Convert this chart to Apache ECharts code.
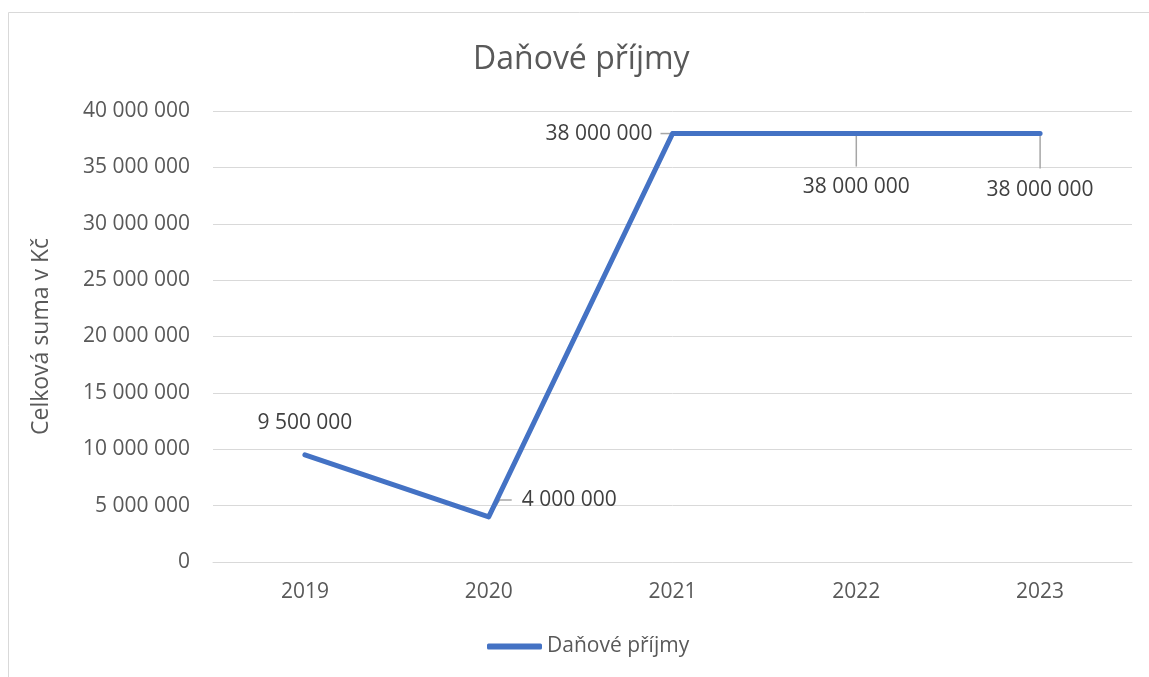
<!DOCTYPE html>
<html>
<head>
<meta charset="utf-8">
<script src="https://cdn.jsdelivr.net/npm/echarts@6/dist/echarts.min.js"></script>
<style>html,body{margin:0;padding:0;background:#fff}#c{width:1149px;height:677px}</style>
</head>
<body>
<div id="c"></div>
<script>
var categories = ['2019', '2020', '2021', '2022', '2023'];
var values = [9500000, 4000000, 38000000, 38000000, 38000000];
var seriesName = 'Daňové příjmy';
var titleText = 'Daňové příjmy';
var yAxisName = 'Celková suma v Kč';

function fmt(v) { return String(v).replace(/\B(?=(\d{3})+(?!\d))/g, ' '); }

var FONT = 'Open Sans';
// label placement relative to each point (pixel offsets = styling)
var labelPlacement = [
  { dx: 0, dy: -32, align: 'center', line: null },
  { dx: 33, dy: -17, align: 'left', line: [[0, 0], [11, -17], [23, -17]] },
  { dx: -20, dy: 0, align: 'right', line: [[-12, 0], [0, 0]] },
  { dx: 0, dy: 53, align: 'center', line: [[0, 0], [0, 33]] },
  { dx: 0, dy: 56, align: 'center', line: [[0, 0], [0, 35]] }
];

var chart = echarts.init(document.getElementById('c'));
chart.setOption({
  animation: false,
  textStyle: { fontFamily: FONT },
  graphic: [{
    type: 'rect', shape: { x: 8.5, y: 12.5, width: 1200, height: 700 },
    style: { fill: 'none', stroke: '#d9d9d9', lineWidth: 1 }, silent: true, z: -1
  }],
  title: {
    text: titleText, left: 468, top: 39,
    textStyle: { fontFamily: FONT, fontSize: 32, fontWeight: 'normal', color: '#595959' }
  },
  legend: {
    bottom: 15, left: 482,
    icon: 'roundRect', itemWidth: 55, itemHeight: 6, itemGap: 10,
    textStyle: { fontFamily: FONT, fontSize: 21, color: '#595959' },
    data: [seriesName]
  },
  grid: { left: 213, right: 17, top: 111, bottom: 115 },
  xAxis: {
    type: 'category', data: categories, boundaryGap: true,
    axisLine: { show: true, lineStyle: { color: '#d9d9d9', width: 1 } },
    axisTick: { show: false },
    axisLabel: { fontFamily: FONT, fontSize: 21, color: '#595959', margin: 20 }
  },
  yAxis: {
    type: 'value', min: 0, max: 40000000, interval: 5000000,
    name: yAxisName, nameLocation: 'middle', nameGap: 160,
    nameTextStyle: { fontFamily: FONT, fontSize: 23, color: '#595959' },
    axisLine: { show: false }, axisTick: { show: false },
    splitLine: { lineStyle: { color: '#d9d9d9', width: 1 } },
    axisLabel: { fontFamily: FONT, fontSize: 21, color: '#595959', margin: 23, formatter: fmt }
  },
  series: [{
    name: seriesName, type: 'line', data: values,
    symbol: 'none', showSymbol: false, z: 3,
    lineStyle: { color: '#4472C4', width: 5, cap: 'round', join: 'round' },
    itemStyle: { color: '#4472C4' }
  }, {
    name: 'labels', type: 'custom', z: 2, silent: true,
    data: values.map(function (v, i) { return [i, v]; }),
    renderItem: function (params, api) {
      var i = params.dataIndex;
      var pl = labelPlacement[i];
      var pt = api.coord([api.value(0), api.value(1)]);
      var children = [];
      if (pl.line) {
        children.push({
          type: 'polyline',
          shape: { points: pl.line.map(function (p) { return [pt[0] + p[0], pt[1] + p[1]]; }) },
          style: { stroke: '#a6a6a6', lineWidth: 1.5, fill: 'none' }
        });
      }
      children.push({
        type: 'text', x: pt[0] + pl.dx, y: pt[1] + pl.dy, z2: 10,
        style: {
          text: fmt(api.value(1)), fontFamily: FONT, fontSize: 21, fill: '#404040',
          align: pl.align, verticalAlign: 'middle'
        }
      });
      return { type: 'group', children: children };
    }
  }]
});
</script>
</body>
</html>
